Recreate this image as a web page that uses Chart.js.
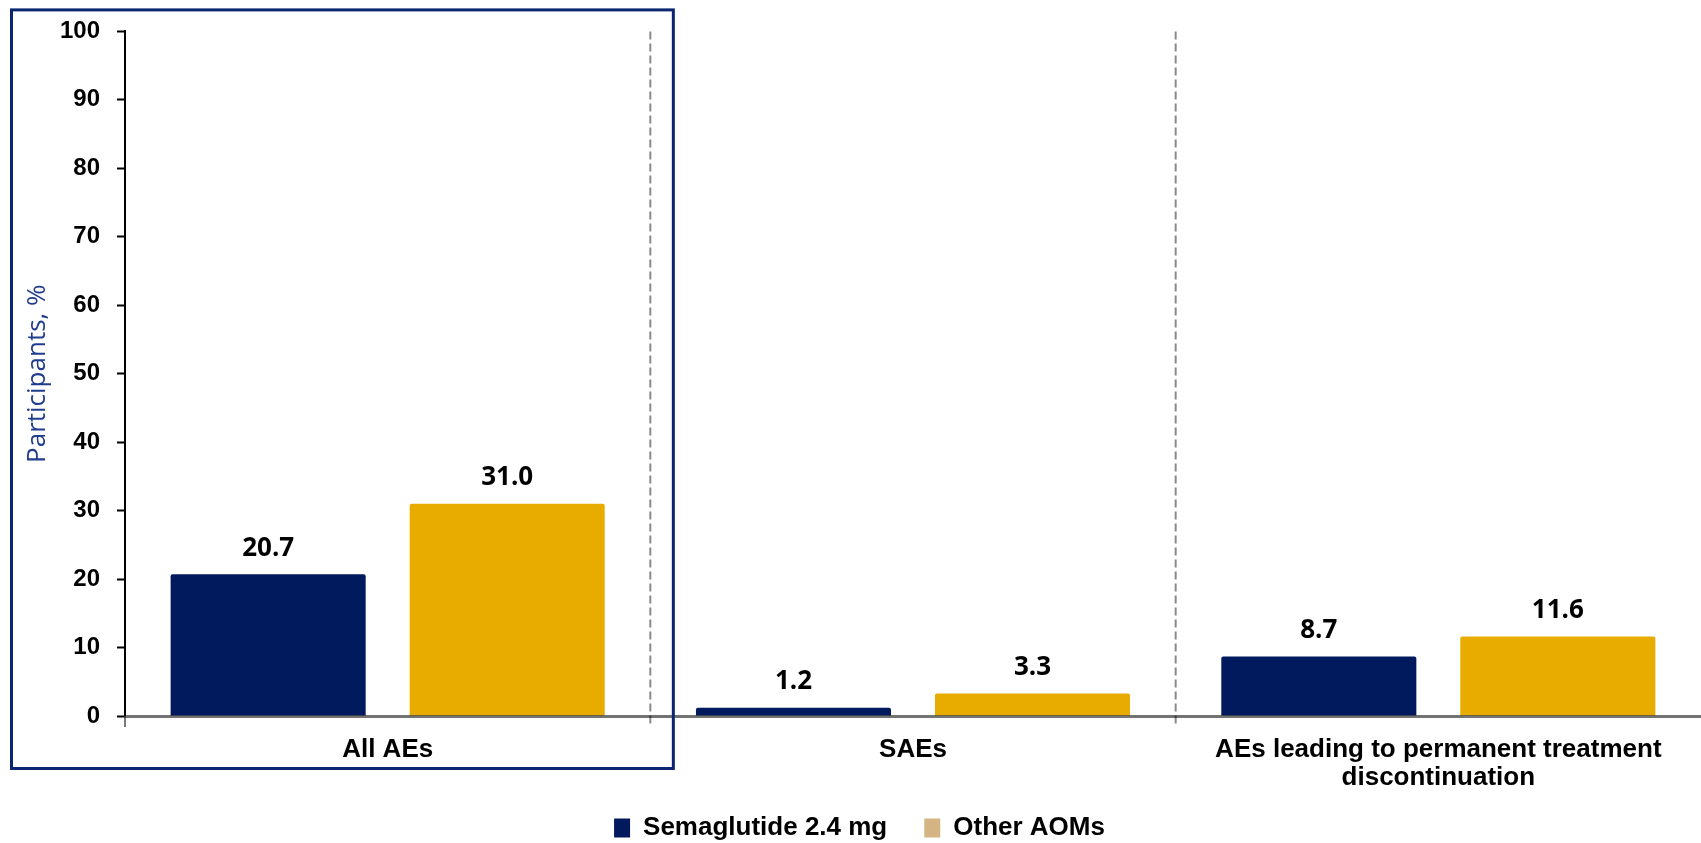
<!DOCTYPE html>
<html>
<head>
<meta charset="utf-8">
<script src="https://cdn.jsdelivr.net/npm/chart.js@4/dist/chart.umd.min.js"></script>
<style>
  html, body { margin: 0; padding: 0; background: #ffffff; }
  #wrap { width: 1701px; height: 843px; position: relative; }
</style>
</head>
<body>
<div id="wrap"><canvas id="chart" width="1701" height="843"></canvas></div>
<script>
// Adverse event categories (multi-line labels are arrays)
const categories = ['All AEs', 'SAEs', ['AEs leading to permanent treatment', 'discontinuation']];
const seriesNames = ['Semaglutide 2.4 mg', 'Other AOMs'];
const semaglutideValues = [20.7, 1.2, 8.7];
const otherAomValues = [31.0, 3.3, 11.6];
const yAxisRange = [0, 100];
const yAxisStep = 10;
const yAxisTitle = 'Participants, %';

const NAVY = '#011A5E';
const GOLD = '#E8AC00';
const TAN = '#D4B483';
const TICK_FONT = 'Liberation Sans, Arial, Helvetica, sans-serif';
const LABEL_FONT = '"Open Sans", "Noto Sans", sans-serif';

const CANVAS_H = 843;
const PLOT_BOTTOM = 716;
const LEGEND_BAND = 40;       // vertical room reserved for the legend row
const LEGEND_CENTER_Y = 828;  // centre line of the legend row
const LEGEND_SHIFT_X = 9;
const LEGEND_FONT_SIZE = 26;
const LEGEND_GAP = 37;

// Dashed separators between categories, plus a short tick under the axis
const separatorPlugin = {
  id: 'separators',
  beforeDatasetsDraw(chart) {
    const { ctx, chartArea, scales } = chart;
    const x = scales.x;
    const n = x.ticks.length;
    ctx.save();
    ctx.strokeStyle = '#8a8a8a';
    ctx.lineWidth = 2;
    ctx.setLineDash([8, 4]);
    for (let i = 0; i < n - 1; i++) {
      const bx = (x.getPixelForValue(i) + x.getPixelForValue(i + 1)) / 2;
      ctx.beginPath();
      ctx.moveTo(bx, chartArea.top);
      ctx.lineTo(bx, chartArea.bottom + 11);
      ctx.stroke();
    }
    ctx.setLineDash([]);
    ctx.strokeStyle = '#7a7a7a';
    ctx.beginPath();
    ctx.moveTo(chartArea.left, chartArea.bottom);
    ctx.lineTo(chartArea.left, chartArea.bottom + 11);
    ctx.stroke();
    ctx.restore();
  }
};

// Value labels above each bar
const valueLabelPlugin = {
  id: 'valueLabels',
  afterDatasetsDraw(chart) {
    const { ctx } = chart;
    ctx.save();
    ctx.font = '700 26px ' + LABEL_FONT;
    ctx.fillStyle = '#000000';
    ctx.textAlign = 'center';
    ctx.textBaseline = 'middle';
    chart.data.datasets.forEach((ds, di) => {
      const meta = chart.getDatasetMeta(di);
      meta.data.forEach((bar, i) => {
        ctx.fillText(ds.data[i].toFixed(1), bar.x, bar.y - 26);
      });
    });
    ctx.restore();
  }
};

// Highlight frame around the first category
const framePlugin = {
  id: 'highlightFrame',
  afterDraw(chart) {
    const { ctx, chartArea, scales } = chart;
    const x = scales.x;
    const boundary = (x.getPixelForValue(0) + x.getPixelForValue(1)) / 2;
    ctx.save();
    ctx.strokeStyle = '#0B2570';
    ctx.lineWidth = 3;
    ctx.strokeRect(11.5, chartArea.top - 21.5, boundary + 23 - 11.5, chartArea.bottom - chartArea.top + 74);
    ctx.restore();
  }
};

// Legend: compact band height, wide item spacing, row centred on LEGEND_CENTER_Y
const legendPlacePlugin = {
  id: 'legendPlace',
  beforeLayout(chart) {
    const lg = chart.legend;
    if (lg && !lg._bandPatched) {
      const fit = lg.fit;
      lg.fit = function () {
        fit.call(this);
        this.height = LEGEND_BAND;
      };
      lg._bandPatched = true;
    }
  },
  afterLayout(chart) {
    const lg = chart.legend;
    if (!lg) return;
    const itemCenter = lg.top + LEGEND_GAP + LEGEND_FONT_SIZE / 2;
    const dy = LEGEND_CENTER_Y - itemCenter;
    lg.top += dy;
    lg.bottom = CANVAS_H;
    lg.height = lg.bottom - lg.top;
    lg.left += LEGEND_SHIFT_X;
    lg.right += LEGEND_SHIFT_X;
  }
};

new Chart(document.getElementById('chart'), {
  type: 'bar',
  data: {
    labels: categories,
    datasets: [
      {
        label: seriesNames[0],
        data: semaglutideValues,
        backgroundColor: NAVY,
        borderRadius: 2,
        borderSkipped: 'bottom',
        barPercentage: 0.816,
        categoryPercentage: 0.91
      },
      {
        label: seriesNames[1],
        data: otherAomValues,
        backgroundColor: GOLD,
        borderRadius: 2,
        borderSkipped: 'bottom',
        barPercentage: 0.816,
        categoryPercentage: 0.91
      }
    ]
  },
  options: {
    responsive: false,
    animation: false,
    devicePixelRatio: 1,
    layout: { padding: { top: 30, left: 0, right: 0, bottom: 0 } },
    plugins: {
      tooltip: { enabled: false },
      legend: {
        position: 'bottom',
        labels: {
          font: { family: TICK_FONT, size: LEGEND_FONT_SIZE, weight: '700' },
          color: '#000000',
          boxWidth: 16,
          boxHeight: 19,
          padding: LEGEND_GAP,
          generateLabels(chart) {
            const swatches = [NAVY, TAN];
            return chart.data.datasets.map((ds, i) => ({
              text: ds.label,
              fillStyle: swatches[i],
              strokeStyle: swatches[i],
              lineWidth: 0,
              hidden: false,
              datasetIndex: i
            }));
          }
        }
      }
    },
    scales: {
      x: {
        afterFit(scale) {
          scale.height = CANVAS_H - PLOT_BOTTOM - LEGEND_BAND;
        },
        grid: { display: false, drawTicks: false },
        border: { display: true, color: 'rgba(0,0,0,0.55)', width: 3, z: 1 },
        ticks: {
          color: '#000000',
          font: { family: TICK_FONT, size: 26, weight: '700', lineHeight: 1.08 },
          padding: 20,
          maxRotation: 0,
          autoSkip: false
        }
      },
      y: {
        min: yAxisRange[0],
        max: yAxisRange[1],
        afterFit(scale) { scale.width = 125; },
        grid: {
          drawOnChartArea: false,
          drawTicks: true,
          tickLength: 8,
          tickColor: '#000000',
          tickWidth: 2
        },
        border: { display: true, color: '#000000', width: 2 },
        ticks: {
          stepSize: yAxisStep,
          color: '#000000',
          font: { family: TICK_FONT, size: 24, weight: '700' },
          padding: 17
        },
        title: {
          display: true,
          text: yAxisTitle,
          color: '#203C8C',
          font: { family: LABEL_FONT, size: 26, weight: '400' },
          padding: { top: 22, bottom: 0 }
        }
      }
    }
  },
  plugins: [separatorPlugin, valueLabelPlugin, framePlugin, legendPlacePlugin]
});
</script>
</body>
</html>
